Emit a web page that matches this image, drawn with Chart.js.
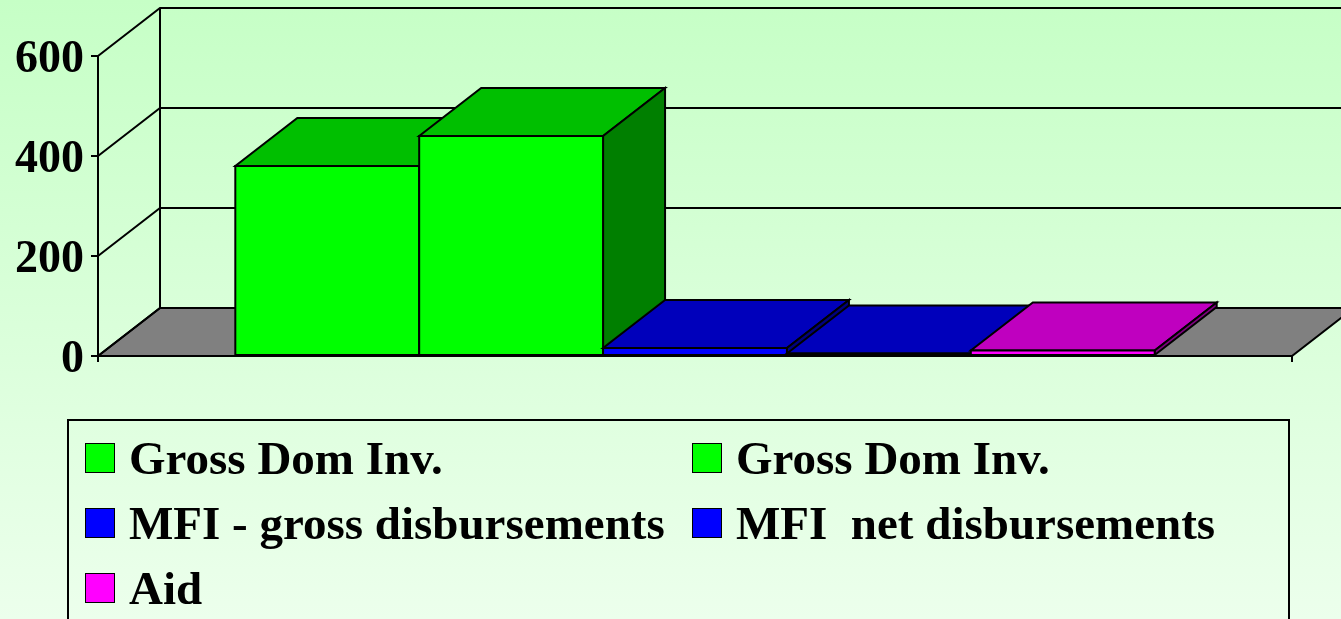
<!DOCTYPE html>
<html>
<head>
<meta charset="utf-8">
<script src="https://cdn.jsdelivr.net/npm/chart.js@4.4.0/dist/chart.umd.min.js"></script>
<style>
html, body { margin:0; padding:0; width:1341px; height:619px; overflow:hidden;
  background: linear-gradient(to bottom, #c6ffc6 0%, #ecffec 100%); }
#c { position:absolute; left:0; top:0; }
#legend { position:absolute; left:67px; top:419px; width:1223px; height:240px;
  border:2px solid #000; box-sizing:border-box; display:grid;
  grid-template-columns:607px 1fr; grid-auto-rows:65px; padding:4px 0 0 16px; }
.item { display:flex; align-items:center; font:bold 47px 'Liberation Serif', 'Times New Roman', serif;
  white-space:pre; color:#000; }
.sw { width:30px; height:30px; box-sizing:border-box; border:1.5px solid #000; margin-right:14px; flex:none; }
</style>
</head>
<body>
<canvas id="c" width="1341" height="619"></canvas>
<div id="legend"></div>
<script>
// ---- data ----
const categories = [''];
const seriesLabels = ['Gross Dom Inv.', 'Gross Dom Inv.', 'MFI - gross disbursements', 'MFI  net disbursements', 'Aid'];
const grossDomInvA = [380];
const grossDomInvB = [440];
const mfiGross = [16];
const mfiNet = [5];
const aid = [11];
const yTicks = [0, 200, 400, 600];

// ---- styles ----
const frontColors = ['#00ff00', '#00ff00', '#0000ff', '#0000ff', '#ff00ff'];
const topColors   = ['#00bf00', '#00bf00', '#0000bb', '#0000bb', '#bf00bf'];
const sideColors  = ['#007f00', '#007f00', '#00007f', '#00007f', '#7f007f'];
const depth = { dx: 62, dy: -48 };

const seriesData = [grossDomInvA, grossDomInvB, mfiGross, mfiNet, aid];

const threeD = {
  id: 'threeD',
  beforeDatasetsDraw(chart) {
    const ctx = chart.ctx, ys = chart.scales.y, a = chart.chartArea;
    const { dx, dy } = depth;
    const y0 = ys.getPixelForValue(0);
    ctx.save();
    ctx.lineWidth = 2;
    ctx.strokeStyle = '#000';
    ctx.lineJoin = 'miter';
    // floor
    ctx.beginPath();
    ctx.moveTo(a.left, y0);
    ctx.lineTo(a.left + dx, y0 + dy);
    ctx.lineTo(a.right + dx, y0 + dy);
    ctx.lineTo(a.right, y0);
    ctx.closePath();
    ctx.fillStyle = '#808080';
    ctx.fill();
    ctx.stroke();
    // side wall diagonals and back wall gridlines
    yTicks.forEach(v => {
      const py = ys.getPixelForValue(v);
      ctx.beginPath();
      ctx.moveTo(a.left, py);
      ctx.lineTo(a.left + dx, py + dy);
      if (v > 0) ctx.lineTo(a.right + dx, py + dy);
      ctx.stroke();
    });
    // back wall left edge
    ctx.beginPath();
    ctx.moveTo(a.left + dx, y0 + dy);
    ctx.lineTo(a.left + dx, ys.getPixelForValue(yTicks[yTicks.length - 1]) + dy);
    ctx.stroke();
    // bars
    chart.data.datasets.forEach((ds, i) => {
      const meta = chart.getDatasetMeta(i);
      meta.data.forEach(el => {
        const p = el.getProps(['x', 'y', 'base', 'width'], true);
        const l = p.x - p.width / 2, r = p.x + p.width / 2, t = p.y, b = p.base;
        // top
        ctx.beginPath();
        ctx.moveTo(l, t); ctx.lineTo(r, t); ctx.lineTo(r + dx, t + dy); ctx.lineTo(l + dx, t + dy); ctx.closePath();
        ctx.fillStyle = topColors[i]; ctx.fill(); ctx.stroke();
        // side
        ctx.beginPath();
        ctx.moveTo(r, t); ctx.lineTo(r + dx, t + dy); ctx.lineTo(r + dx, b + dy); ctx.lineTo(r, b); ctx.closePath();
        ctx.fillStyle = sideColors[i]; ctx.fill(); ctx.stroke();
        // front
        ctx.beginPath();
        ctx.rect(l, t, r - l, b - t);
        ctx.fillStyle = frontColors[i]; ctx.fill(); ctx.stroke();
      });
    });
    ctx.restore();
    return false;
  }
};

const chart = new Chart(document.getElementById('c'), {
  type: 'bar',
  data: {
    labels: categories,
    datasets: seriesLabels.map((lab, i) => ({
      label: lab,
      data: seriesData[i],
      backgroundColor: frontColors[i],
      borderColor: '#000',
      borderWidth: 2
    }))
  },
  options: {
    responsive: false,
    animation: false,
    devicePixelRatio: 1,
    categoryPercentage: 0.77,
    barPercentage: 1.0,
    layout: { padding: { left: 0, right: 49, top: 56, bottom: 257 } },
    plugins: { legend: { display: false }, tooltip: { enabled: false } },
    scales: {
      x: {
        ticks: { display: false },
        grid: { drawOnChartArea: false, drawTicks: true, tickLength: 6, color: '#000', lineWidth: 2, offset: true },
        border: { display: true, color: '#000', width: 2 },
        afterFit(s) { s.height = 6; }
      },
      y: {
        min: 0, max: 600,
        afterBuildTicks(s) { s.ticks = yTicks.map(v => ({ value: v })); },
        ticks: { color: '#000', padding: 7, labelOffset: 4, font: { family: 'Liberation Serif', size: 46, weight: 'bold' } },
        grid: { drawOnChartArea: false, drawTicks: true, tickLength: 7, color: '#000', lineWidth: 2 },
        border: { display: true, color: '#000', width: 2 },
        afterFit(s) { s.width = 98; }
      }
    }
  },
  plugins: [threeD]
});

// HTML legend built from the chart's datasets
const leg = document.getElementById('legend');
chart.data.datasets.forEach(ds => {
  const item = document.createElement('div');
  item.className = 'item';
  const sw = document.createElement('span');
  sw.className = 'sw';
  sw.style.background = ds.backgroundColor;
  const t = document.createElement('span');
  t.textContent = ds.label;
  item.append(sw, t);
  leg.append(item);
});
</script>
</body>
</html>
